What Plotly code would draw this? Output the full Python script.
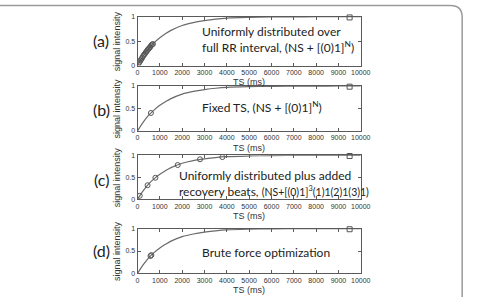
import plotly.graph_objects as go

W, H = 479, 297

# Recovery curve samples
curve_ts = [0, 250, 500, 750, 1000, 1250, 1500, 2000, 2500, 3000, 3500, 4000, 5000, 6000, 7000, 8000, 9000, 10000]
curve_si = [0, 0.19, 0.35, 0.47, 0.57, 0.65, 0.72, 0.82, 0.88, 0.92, 0.95, 0.97, 0.986, 0.994, 0.997, 0.999, 1.0, 1.0]

# Sample points per panel
a_ts = [50, 90, 130, 170, 210, 250, 290, 330, 370, 410, 450, 490, 530, 570, 610, 650, 690]
a_si = [0.04, 0.07, 0.10, 0.13, 0.16, 0.19, 0.22, 0.24, 0.27, 0.29, 0.32, 0.34, 0.36, 0.38, 0.41, 0.43, 0.44]
b_ts = [600]
b_si = [0.40]
c_ts = [100, 450, 800, 1800, 2800, 3800]
c_si = [0.08, 0.32, 0.49, 0.78, 0.91, 0.96]
d_ts = [580, 620]
d_si = [0.39, 0.41]
sq_ts = [9500]
sq_si = [0.985]

panel_labels = ["(a)", "(b)", "(c)", "(d)"]
panel_texts = [
    "Uniformly distributed over<br>full RR interval, (NS + [(0)1]<sup>N</sup>)",
    "Fixed TS, (NS + [(0)1]<sup>N</sup>)",
    "Uniformly distributed plus added<br>recovery beats, <span style=\"font-size:10.5px\">(NS+[(0)1]<sup>3</sup>(1)1(2)1(3)1)</span>",
    "Brute force optimization",
]
x_ticks = [0, 1000, 2000, 3000, 4000, 5000, 6000, 7000, 8000, 9000, 10000]
y_ticks = [0, 0.5, 1]
x_title = "TS (ms)"
y_title = "signal intensity"

# layout in pixels
x_left, x_right = 139, 368
panels_px = [(13, 63), (84, 130), (155, 200), (230, 276)]
text_px = [(203, 36), (203, 105), (179, 184), (203, 254)]
label_px = [(102, 37), (102, 108), (102, 180), (102, 252)]

pts = [(a_ts, a_si), (b_ts, b_si), (c_ts, c_si), (d_ts, d_si)]

fig = go.Figure()
grey = "#5a5a5a"
axfont = dict(family="Arial", size=7, color="#333")

for i in range(4):
    xa = "x" if i == 0 else f"x{i+1}"
    ya = "y" if i == 0 else f"y{i+1}"
    fig.add_trace(go.Scatter(x=curve_ts, y=curve_si, mode="lines", line=dict(color="#6a6a6a", width=1.2, shape="spline"),
                             xaxis=xa, yaxis=ya, showlegend=False, hoverinfo="skip"))
    px_, py_ = pts[i]
    fig.add_trace(go.Scatter(x=px_, y=py_, mode="markers",
                             marker=dict(symbol="circle-open", size=5, color="#555", line=dict(width=1)),
                             xaxis=xa, yaxis=ya, showlegend=False))
    fig.add_trace(go.Scatter(x=sq_ts, y=sq_si, mode="markers",
                             marker=dict(symbol="square-open", size=5, color="#555", line=dict(width=1)),
                             xaxis=xa, yaxis=ya, showlegend=False, cliponaxis=False))
    top, bot = panels_px[i]
    xd = [x_left / W, x_right / W]
    yd = [1 - bot / H, 1 - top / H]
    common = dict(showline=True, linecolor=grey, linewidth=1, mirror="ticks", ticks="inside",
                  ticklen=3, tickcolor=grey, showgrid=False, zeroline=False, tickfont=axfont)
    fig.layout[("xaxis" if i == 0 else f"xaxis{i+1}")] = dict(
        domain=xd, anchor=ya, range=[0, 10000], tickvals=x_ticks, ticktext=[str(v) for v in x_ticks],
        tickangle=0, **common)
    fig.layout[("yaxis" if i == 0 else f"yaxis{i+1}")] = dict(
        domain=yd, anchor=xa, range=[0, 1], tickvals=y_ticks, ticktext=["0", "0.5", "1"], **common)
    # x title
    fig.add_annotation(x=(x_left + x_right) / 2 / W, y=1 - (bot + 17) / H, xref="paper", yref="paper",
                       text=x_title, showarrow=False, font=dict(family="Arial", size=9, color="#333"),
                       xanchor="center", yanchor="middle")
    # y title
    fig.add_annotation(x=118 / W, y=1 - (top + bot) / 2 / H, xref="paper", yref="paper",
                       text=y_title, showarrow=False, textangle=-90,
                       font=dict(family="Arial", size=9, color="#333"), xanchor="center", yanchor="middle")
    # panel label
    lx, ly = label_px[i]
    fig.add_annotation(x=lx / W, y=1 - ly / H, xref="paper", yref="paper", text=panel_labels[i],
                       showarrow=False, font=dict(family="Lato", size=16, color="#222"),
                       xanchor="center", yanchor="middle")
    tx, ty = text_px[i]
    fig.add_annotation(x=tx / W, y=1 - ty / H, xref="paper", yref="paper", text=panel_texts[i],
                       showarrow=False, font=dict(family="Lato", size=12, color="#222"),
                       xanchor="left", yanchor="middle", align="left")

# outer rounded frame (paper coords)
r = 12
x0, x1, y0, y1 = -5, 472, 1.5, 305
def P(x, y):
    return f"{x / W},{1 - y / H}"
path = (f"M {P(x0, y0)} L {P(x1 - r, y0)} Q {P(x1, y0)} {P(x1, y0 + r)} L {P(x1, y1)} L {P(x0, y1)} Z")
fig.add_shape(type="path", path=path, xref="paper", yref="paper", line=dict(color="#9a9a9a", width=1.5))

fig.update_layout(width=W, height=H, margin=dict(l=0, r=0, t=0, b=0),
                  paper_bgcolor="white", plot_bgcolor="white")
fig.write_html("out.html")
